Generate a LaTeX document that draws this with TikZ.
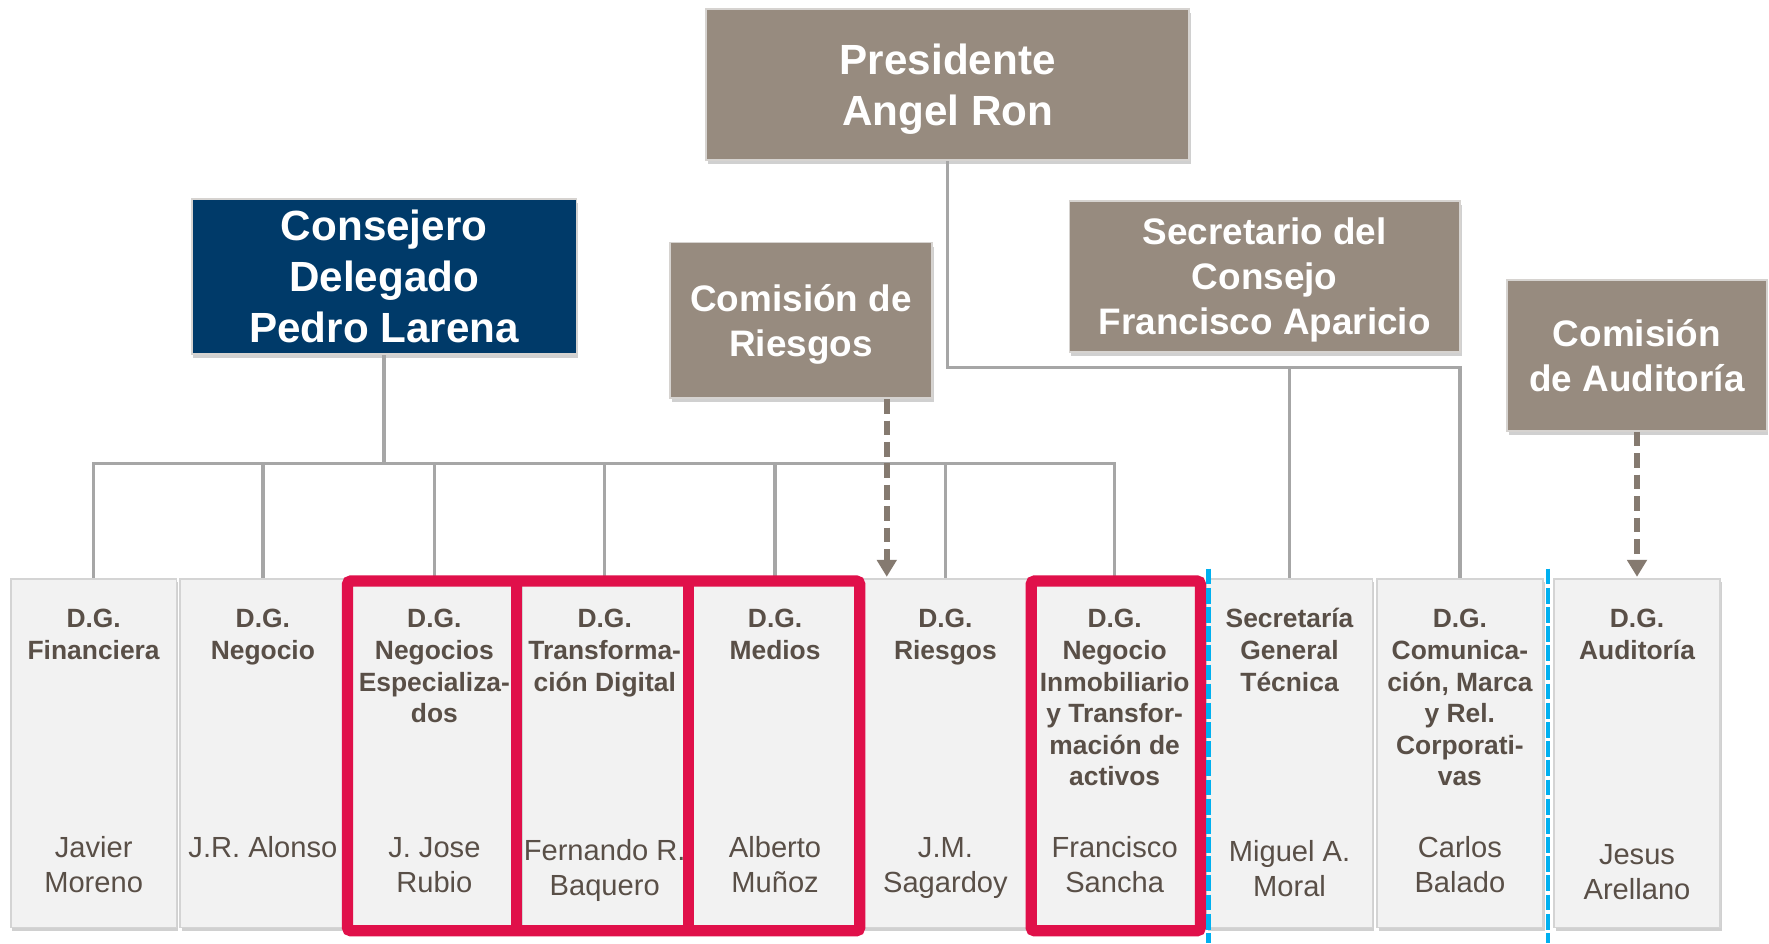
\documentclass[tikz,border=0pt]{standalone}
\usepackage{fontspec}
\setmainfont{Liberation Sans}
\usetikzlibrary{arrows.meta,shadows}
\definecolor{boxbrown}{HTML}{978B7F}
\definecolor{cdblue}{HTML}{003A69}
\definecolor{txtc}{HTML}{594F47}
\definecolor{connc}{HTML}{A6A6A6}
\definecolor{arrc}{HTML}{857A70}
\definecolor{redf}{HTML}{E0104A}
\definecolor{bluel}{HTML}{00B0F0}
\definecolor{lightb}{HTML}{F2F2F2}
\definecolor{edgec}{HTML}{D6D3D0}
\newcommand{\hs}{\rule{0pt}{1em}}
\newcommand{\ds}{\rule[-0.284em]{0pt}{0.284em}}
\begin{document}
\begin{tikzpicture}[x=1pt,y=-1pt,
  topbox/.style={draw=edgec, line width=1.5pt, fill=boxbrown, text=white,
    inner sep=0pt, align=center, font=\bfseries\fontsize{37.4}{44.9}\selectfont,
    drop shadow={shadow xshift=1.5pt, shadow yshift=-3.5pt, opacity=0.3, fill=black!60}},
  midtext/.style={font=\bfseries\fontsize{32.7}{40}\selectfont},
  dgbox/.style={draw=black!17, line width=1.5pt, fill=lightb, inner sep=0pt,
    minimum width=147pt, minimum height=309pt,
    drop shadow={shadow xshift=1.5pt, shadow yshift=-3pt, opacity=0.3, fill=black!60}},
  titletxt/.style={anchor=north, inner sep=0pt, align=center, text=txtc,
    font=\bfseries\fontsize{23.4}{28}\selectfont},
  nametxt/.style={anchor=north, inner sep=0pt, align=center, text=txtc,
    font=\fontsize{25.8}{31}\selectfont},
  connline/.style={draw=connc, line width=3pt},
  darr/.style={draw=arrc, line width=5.5pt, dash pattern=on 13pt off 6pt,
    -{Triangle[width=17pt,length=15pt]}, shorten >=1pt},
  redframe/.style={draw=redf, line width=10pt},
  bluedash/.style={draw=bluel, line width=4pt, dash pattern=on 14pt off 3pt}
]
\fill[white] (0,0) rectangle (1568,836);
\useasboundingbox (0,0) rectangle (1568,836);

% top boxes
\node[topbox, minimum width=428pt, minimum height=134pt] (pres) at (840,75)
  {\hs Presidente\\Angel Ron\ds};
\node[topbox, fill=cdblue, minimum width=341pt, minimum height=134pt] (cd) at (340.5,245)
  {\hs Consejero\\Delegado\\Pedro Larena\ds};
\node[topbox, midtext, minimum width=232pt, minimum height=138pt] (cr) at (710,284)
  {\hs Comisión de\\Riesgos\ds};
\node[topbox, midtext, minimum width=346pt, minimum height=134pt] (sc) at (1121,245)
  {\hs Secretario del\\Consejo\\Francisco Aparicio\ds};
\node[topbox, midtext, minimum width=230pt, minimum height=134pt] (ca) at (1451,315)
  {\hs Comisión\\de Auditoría\ds};

% bottom boxes
\foreach \n/\x in {1/83,2/233,3/385,4/536,5/687,6/838,7/988,8/1143,9/1294,10/1451}
  \node[dgbox] (b\n) at (\x,667.5) {};

% connectors
\coordinate (jp) at (0,326);
\coordinate (jc) at (0,411);
\coordinate (ax) at (786,0);
\draw[connline] (pres.south) |- (b9.north |- jp) -- (b9.north);
\draw[connline] (b8.north) -- (b8.north |- jp);
\draw[connline] (cd.south) -- (cd.south |- jc);
\draw[connline] (b1.north) -- (b1.north |- jc) -- (b7.north |- jc) -- (b7.north);
\foreach \n in {2,3,4,5,6}
  \draw[connline] (b\n.north) -- (b\n.north |- jc);

% titles
\node[titletxt] (t1) at (83,533) {\hs D.G.\\Financiera};
\node[titletxt] (t2) at (233,533) {\hs D.G.\\Negocio};
\node[titletxt] (t3) at (385,533) {\hs D.G.\\Negocios\\Especializa-\\dos};
\node[titletxt] (t4) at (536,533) {\hs D.G.\\Transforma-\\ción Digital};
\node[titletxt] (t5) at (687,533) {\hs D.G.\\Medios};
\node[titletxt] (t6) at (838,533) {\hs D.G.\\Riesgos};
\node[titletxt] (t7) at (988,533) {\hs D.G.\\Negocio\\Inmobiliario\\y Transfor-\\mación de\\activos};
\node[titletxt] (t8) at (1143,533) {\hs Secretaría\\General\\Técnica};
\node[titletxt] (t9) at (1294,533) {\hs D.G.\\Comunica-\\ción, Marca\\y Rel.\\Corporati-\\vas};
\node[titletxt] (t10) at (1451,533) {\hs D.G.\\Auditoría};

% names
\node[nametxt] (n1) at (83,734.4) {\hs Javier\\Moreno};
\node[nametxt] (n2) at (233,734.4) {\hs J.R. Alonso};
\node[nametxt] (n3) at (385,734.4) {\hs J. Jose\\Rubio};
\node[nametxt] (n4) at (536,736.4) {\hs Fernando R.\\Baquero};
\node[nametxt] (n5) at (687,734.4) {\hs Alberto\\Muñoz};
\node[nametxt] (n6) at (838,734.4) {\hs J.M.\\Sagardoy};
\node[nametxt] (n7) at (988,734.4) {\hs Francisco\\Sancha};
\node[nametxt] (n8) at (1143,737.4) {\hs Miguel A.\\Moral};
\node[nametxt] (n9) at (1294,734.4) {\hs Carlos\\Balado};
\node[nametxt] (n10) at (1451,740.4) {\hs Jesus\\Arellano};

% red frames
\draw[redframe, rounded corners=3pt] (308,515) rectangle (762,825);
\draw[redframe] (458,515) -- (458,825);
\draw[redframe] (610,515) -- (610,825);
\draw[redframe, rounded corners=3pt] (914,515) rectangle (1064,825);

% blue dashed separators
\draw[bluedash] (1071,504) -- (1071,836);
\draw[bluedash] (1372,504) -- (1372,836);

% dashed arrows
\draw[darr] (cr.south -| ax) -- (b6.north -| ax);
\draw[darr] (ca.south) -- (b10.north);
\end{tikzpicture}
\end{document}
